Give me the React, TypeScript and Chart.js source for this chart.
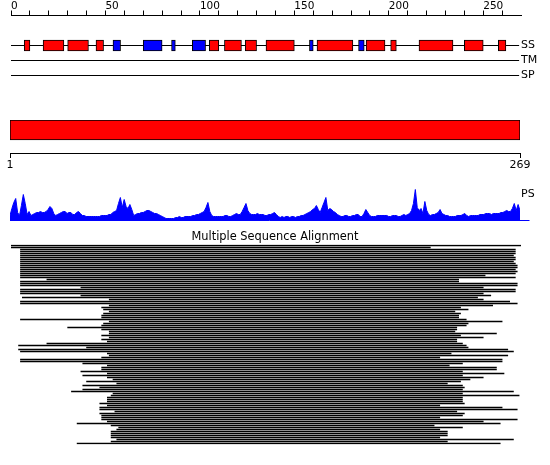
import React, { useEffect, useRef } from 'react';
import { Chart, registerables } from 'chart.js';

Chart.register(...registerables);

const FONT = 'DejaVu Sans';
Chart.defaults.font.family = FONT;
Chart.defaults.color = '#000';

// ---------- data ----------
const seqLength = 269;
const axisMax = 270;
const axisTicks = [0, 10, 20, 30, 40, 50, 60, 70, 80, 90, 100, 110, 120, 130, 140, 150, 160, 170, 180, 190, 200, 210, 220, 230, 240, 250, 260];
const axisLabelStep = 50;

const trackNames = ['SS', 'TM', 'SP'];

// secondary structure elements (H = helix, red; E = strand, blue)
const ssStart = [7, 17, 30, 45, 54, 70, 85, 96, 105, 113, 124, 135, 158, 162, 184, 188, 201, 216, 240, 258];
const ssEnd = [10, 28, 41, 49, 58, 80, 87, 103, 110, 122, 130, 150, 160, 181, 187, 198, 204, 234, 250, 262];
const ssType = ['H', 'H', 'H', 'H', 'E', 'E', 'E', 'E', 'H', 'H', 'H', 'H', 'E', 'H', 'E', 'H', 'H', 'H', 'H', 'H'];

// domain bar + ruler
const domainStart = 1;
const domainEnd = 269;
const rulerTicks = [1, 269];

// PS profile (one value per residue)
const psScores = [
  5, 12, 18, 22, 8, 5, 15, 26, 17, 6,
  9, 5, 6, 7, 8, 8, 9, 8, 8, 9,
  11, 14, 12, 7, 5, 6, 7, 8, 9, 9,
  7, 8, 8, 6, 6, 8, 9, 7, 5, 5,
  4, 4, 4, 4, 4, 4, 4, 4, 5, 5,
  5, 5, 6, 6, 8, 9, 10, 17, 23, 13,
  21, 14, 12, 16, 11, 5, 6, 7, 7, 8,
  8, 9, 10, 10, 9, 8, 7, 7, 6, 5,
  4, 3, 2, 2, 2, 2, 2, 3, 3, 4,
  3, 3, 4, 4, 4, 4, 5, 5, 6, 6,
  7, 8, 9, 13, 18, 9, 5, 4, 4, 4,
  4, 4, 4, 5, 5, 4, 4, 5, 6, 7,
  6, 6, 9, 13, 17, 10, 7, 6, 6, 6,
  7, 6, 6, 6, 5, 5, 6, 6, 7, 8,
  6, 4, 3, 4, 3, 4, 4, 3, 4, 4,
  3, 4, 4, 5, 5, 6, 7, 8, 9, 11,
  12, 15, 11, 8, 13, 18, 23, 10, 12, 11,
  9, 8, 6, 5, 4, 4, 5, 5, 4, 4,
  5, 5, 6, 6, 4, 4, 7, 11, 8, 5,
  4, 4, 4, 5, 5, 5, 5, 5, 5, 4,
  4, 5, 5, 5, 4, 4, 5, 6, 5, 6,
  7, 10, 17, 31, 13, 10, 12, 7, 19, 10,
  6, 5, 6, 6, 7, 8, 11, 7, 6, 5,
  5, 4, 4, 4, 4, 5, 5, 5, 6, 7,
  5, 4, 5, 5, 5, 5, 5, 6, 6, 6,
  7, 7, 7, 6, 7, 7, 7, 7, 8, 8,
  9, 10, 9, 9, 12, 17, 10, 16, 10,
];
const psMax = 32;
const psBaselineEnd = 274;
const psLabelAt = 26;

// multiple sequence alignment: start / end column of each aligned sequence
const msaStart = [
  0, 0, 5, 5, 5, 5, 5, 5, 5, 5,
  5, 5, 5, 5, 5, 5, 5, 19, 5, 5,
  5, 37, 5, 5, 5, 37, 6, 52, 5, 5,
  52, 48, 49, 52, 49, 48, 48, 5, 52, 49,
  48, 30, 48, 52, 52, 48, 52, 48, 51, 19,
  4, 40, 4, 5, 51, 52, 48, 5, 5, 38,
  51, 48, 48, 37, 51, 38, 51, 54, 40, 56,
  38, 47, 38, 32, 54, 53, 51, 51, 51, 47,
  51, 47, 47, 55, 47, 48, 48, 48, 51, 35,
  53, 57, 56, 53, 53, 53, 53, 56, 53, 35,
];
const msaEnd = [
  270, 222, 267, 267, 267, 266, 267, 267, 266, 267,
  268, 268, 267, 268, 267, 251, 267, 237, 237, 268,
  268, 250, 267, 267, 250, 254, 247, 250, 264, 268,
  255, 238, 242, 235, 238, 237, 237, 241, 260, 242,
  241, 236, 236, 235, 257, 238, 250, 236, 236, 239,
  241, 242, 263, 266, 233, 263, 227, 260, 260, 239,
  232, 257, 257, 239, 261, 239, 250, 243, 238, 231,
  239, 240, 239, 266, 239, 269, 239, 239, 239, 240,
  227, 260, 268, 236, 240, 239, 227, 268, 250, 259,
  224, 239, 227, 231, 231, 231, 227, 266, 231, 259,
];
const msaTitle = 'Multiple Sequence Alignment';

// ---------- rendering ----------
const W = 550;
const H = 465;
const RED = '#ff0000';
const BLUE = '#0000ff';
const BLACK = '#000000';

const common = {
  animation: false as const,
  responsive: false,
  events: [] as any[],
};
const noPlugins = { legend: { display: false }, tooltip: { enabled: false } };

function Layer({ build }: { build: () => any }) {
  const ref = useRef<HTMLCanvasElement>(null);
  useEffect(() => {
    const chart = new Chart(ref.current as HTMLCanvasElement, build());
    return () => chart.destroy();
  }, []);
  return (
    <canvas
      ref={ref}
      width={W}
      height={H}
      style={{ position: 'absolute', left: 0, top: 0, width: W, height: H }}
    />
  );
}

const tracksConfig = () => ({
  type: 'bar',
  data: {
    datasets: [
      {
        type: 'bar',
        indexAxis: 'y',
        data: ssStart.map((s, i) => ({ x: [s, ssEnd[i]], y: 2 })),
        backgroundColor: ssType.map((t) => (t === 'H' ? RED : BLUE)),
        borderColor: BLACK,
        borderWidth: 1,
        borderSkipped: false,
        barThickness: 11,
        order: 0,
      },
      ...trackNames.map((_, k) => ({
        type: 'line',
        indexAxis: 'x',
        data: [
          { x: 0, y: 2 + k },
          { x: seqLength, y: 2 + k },
        ],
        borderColor: BLACK,
        borderWidth: 1,
        pointRadius: 0,
        order: 1,
      })),
    ],
  },
  options: {
    ...common,
    plugins: noPlugins,
    layout: { padding: { left: 11, right: 0, top: 0, bottom: 374.5 } },
    scales: {
      x: {
        type: 'linear',
        position: 'top',
        offset: false,
        min: 0,
        max: axisMax,
        afterBuildTicks: (s: any) => {
          s.ticks = axisTicks.map((v) => ({ value: v }));
        },
        afterFit: (s: any) => {
          s.height = 15.5;
        },
        ticks: {
          autoSkip: false,
          maxRotation: 0,
          align: 'start',
          padding: -1,
          color: BLACK,
          font: { family: FONT, size: 10.5, lineHeight: 1 },
          callback: (v: any) => (v % axisLabelStep === 0 ? String(v) : ''),
        },
        grid: { offset: false, drawOnChartArea: false, tickLength: 5, color: BLACK, lineWidth: 1 },
        border: { color: BLACK, width: 1 },
      },
      y: {
        type: 'linear',
        position: 'right',
        offset: false,
        reverse: true,
        min: 0,
        max: 5,
        afterBuildTicks: (s: any) => {
          s.ticks = trackNames.map((_, k) => ({ value: 2 + k }));
        },
        afterFit: (s: any) => {
          s.width = 29;
        },
        ticks: {
          color: BLACK,
          padding: 0,
          font: { family: FONT, size: 11 },
          callback: (v: any) => trackNames[Math.round(v) - 2],
        },
        grid: { offset: false, display: false, drawTicks: false },
        border: { display: false },
      },
    },
  },
});

const domainConfig = () => ({
  type: 'bar',
  data: {
    datasets: [
      {
        indexAxis: 'y',
        data: [{ x: [domainStart, domainEnd], y: 0 }],
        backgroundColor: RED,
        borderColor: BLACK,
        borderWidth: 1,
        borderSkipped: false,
        barThickness: 20,
      },
    ],
  },
  options: {
    ...common,
    plugins: noPlugins,
    layout: { padding: { left: 10, right: 30, top: 120, bottom: 292 } },
    scales: {
      x: {
        type: 'linear',
        position: 'bottom',
        offset: false,
        min: domainStart,
        max: domainEnd,
        afterBuildTicks: (s: any) => {
          s.ticks = rulerTicks.map((v) => ({ value: v }));
        },
        afterFit: (s: any) => {
          s.height = 20;
        },
        ticks: {
          autoSkip: false,
          maxRotation: 0,
          color: BLACK,
          padding: 1,
          font: { family: FONT, size: 11 },
        },
        grid: { offset: false, drawOnChartArea: false, tickLength: 5, color: BLACK, lineWidth: 1 },
        border: { color: BLACK, width: 1 },
      },
      y: { type: 'linear', display: false, offset: false, reverse: true, min: -0.5, max: 1.15 },
    },
  },
});

const psConfig = () => ({
  type: 'line',
  data: {
    datasets: [
      {
        data: psScores.map((v, i) => ({ x: i + 1, y: v })),
        fill: 'origin',
        backgroundColor: BLUE,
        borderColor: BLUE,
        borderWidth: 1,
        pointRadius: 0,
        tension: 0,
      },
      {
        data: [
          { x: 1, y: 0 },
          { x: psBaselineEnd, y: 0 },
        ],
        fill: false,
        borderColor: BLUE,
        borderWidth: 1,
        pointRadius: 0,
        clip: false,
      },
    ],
  },
  options: {
    ...common,
    plugins: noPlugins,
    layout: { padding: { left: 10, right: 0, top: 188.5, bottom: 244.5 } },
    scales: {
      x: { type: 'linear', display: false, offset: false, min: 1, max: seqLength },
      y: {
        type: 'linear',
        position: 'right',
        offset: false,
        min: 0,
        max: psMax,
        afterBuildTicks: (s: any) => {
          s.ticks = [{ value: psLabelAt }];
        },
        afterFit: (s: any) => {
          s.width = 30;
        },
        ticks: {
          color: BLACK,
          padding: 1,
          font: { family: FONT, size: 11 },
          callback: () => 'PS',
        },
        grid: { display: false, drawTicks: false },
        border: { display: false },
      },
    },
  },
});

const msaConfig = () => ({
  type: 'bar',
  data: {
    labels: msaStart.map((_, i) => `seq${i + 1}`),
    datasets: [
      {
        data: msaStart.map((s, i) => [s, msaEnd[i]]),
        backgroundColor: BLACK,
        borderWidth: 0,
        barThickness: 1,
      },
    ],
  },
  options: {
    ...common,
    indexAxis: 'y',
    plugins: {
      ...noPlugins,
      title: {
        display: true,
        text: msaTitle,
        color: BLACK,
        font: { family: FONT, size: 11.4, weight: 'normal', lineHeight: 1.2 },
        padding: { top: 0, bottom: 0.8 },
      },
    },
    layout: { padding: { left: 11, right: 11, top: 230, bottom: 20.5 } },
    scales: {
      x: { type: 'linear', display: false, offset: false, min: 0, max: axisMax },
      y: {
        type: 'category',
        position: 'right',
        offset: true,
        afterFit: (s: any) => {
          s.width = 18;
        },
        ticks: { display: false },
        grid: { display: false, drawTicks: false },
        border: { display: false },
      },
    },
  },
});

export default function App() {
  return (
    <div
      style={{
        position: 'absolute',
        left: 0,
        top: 0,
        width: W,
        height: H,
        background: '#ffffff',
        overflow: 'hidden',
      }}
    >
      <Layer build={tracksConfig} />
      <Layer build={domainConfig} />
      <Layer build={psConfig} />
      <Layer build={msaConfig} />
    </div>
  );
}
